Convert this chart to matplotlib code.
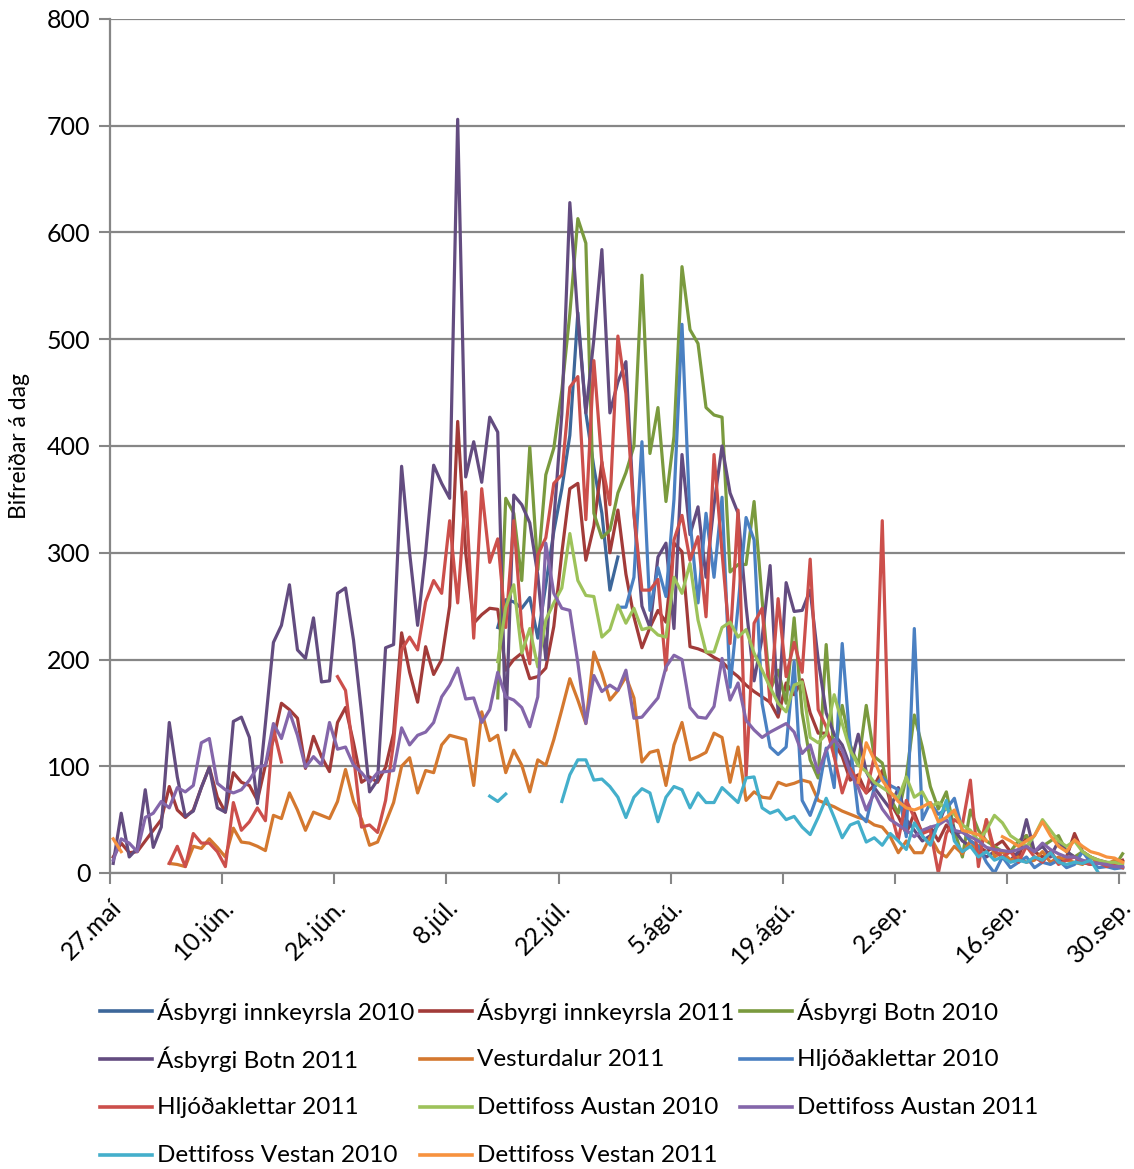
import matplotlib
matplotlib.use("Agg")
import matplotlib.pyplot as plt
from matplotlib.lines import Line2D
import numpy as np

nan = np.nan
N_DAYS = 127  # 27. maí .. 30. sep.

tick_days = [0, 14, 28, 42, 56, 70, 84, 98, 112, 126]
tick_labels = ['27.maí', '10.jún.', '24.jún.', '8.júl.', '22.júl.', '5.ágú.',
               '19.ágú.', '2.sep.', '16.sep.', '30.sep.']

# (start day, daily values)
asb_inn_2010 = (48, [230, 256, 254, 248, 258, 220, 270, 320, 360, 410, 525, 431, 380, 337, 265, 296])
asb_inn_2011 = (0, [15, 28, 19, 20, 30, 40, 50, 81, 59, 52,
                    59, 80, 99, 71, 57, 94, 85, 82, 68, 101,
                    125, 159, 153, 145, 98, 128, 109, 95, 141, 155,
                    122, 85, 90, 85, 99, 131, 225, 188, 160, 212,
                    186, 200, 250, 423, 300, 234, 242, 248, 247, 190,
                    200, 206, 182, 184, 192, 231, 300, 360, 365, 293,
                    325, 385, 300, 340, 280, 240, 211, 230, 246, 235,
                    309, 301, 212, 210, 207, 202, 198, 190, 184, 176,
                    170, 165, 160, 146, 178, 167, 181, 150, 131, 131,
                    122, 109, 87, 92, 75, 82, 96, 66, 53, 37,
                    56, 37, 43, 30, 45, 35, 40, 30, 25, 20,
                    25, 30, 20, 15, 35, 20, 15, 20, 10, 15,
                    37, 20, 15, 12, 10, 8, 12])
asb_botn_2010 = (48, [164, 351, 337, 274, 399, 284, 373, 398, 452, 524,
                      613, 590, 337, 314, 321, 356, 375, 400, 560, 393,
                      436, 348, 409, 568, 509, 496, 436, 429, 427, 282,
                      289, 289, 348, 256, 171, 190, 159, 239, 150, 106,
                      89, 214, 109, 157, 120, 101, 157, 109, 103, 70,
                      56, 90, 148, 118, 81, 60, 76, 40, 15, 59,
                      40, 30, 25, 20, 20, 30, 35, 20, 25, 30,
                      35, 20, 15, 20, 15, 10, 8, 6, 18])
asb_botn_2011 = (0, [9, 56, 15, 23, 78, 24, 43, 141, 90, 53,
                     58, 80, 99, 61, 57, 142, 146, 127, 65, 140,
                     216, 232, 270, 209, 201, 239, 179, 180, 262, 267,
                     218, 150, 76, 87, 211, 214, 381, 300, 232, 300,
                     382, 365, 351, 706, 371, 404, 366, 427, 413, 134,
                     354, 345, 328, 279, 200, 330, 430, 628, 520, 431,
                     500, 584, 431, 460, 479, 337, 250, 230, 296, 309,
                     229, 392, 317, 343, 277, 345, 400, 356, 337, 250,
                     180, 220, 288, 150, 272, 245, 246, 265, 200, 150,
                     130, 120, 100, 130, 95, 80, 70, 60, 80, 50,
                     40, 30, 35, 45, 65, 40, 30, 25, 20, 15,
                     20, 15, 12, 20, 50, 20, 25, 15, 30, 20,
                     15, 10, 8, 10, 8, 6, 5])
vesturdalur_2011 = (7, [9, 8, 6, 25, 23, 32, 24, 15, 42, 29,
                        28, 25, 21, 54, 51, 75, 59, 40, 57, 54,
                        51, 67, 97, 67, 50, 26, 29, 47, 66, 100,
                        108, 75, 96, 94, 120, 129, 127, 125, 82, 151,
                        124, 129, 94, 115, 101, 76, 106, 101, 125, 153,
                        182, 162, 140, 207, 187, 162, 171, 184, 164, 104,
                        113, 115, 82, 120, 141, 106, 109, 113, 131, 127,
                        85, 118, 68, 76, 71, 70, 85, 82, 84, 87,
                        85, 68, 65, 62, 58, 55, 52, 50, 45, 43,
                        34, 19, 30, 19, 19, 34, 20, 15, 25, 18,
                        30, 20, 50, 15, 20, 12, 15, 10, 12, 20,
                        10, 15, 12, 10, 8, 15, 10, 8, 12, 10])
hljod_2010 = (63, [249, 249, 277, 404, 246,
                   286, 259, 350, 514, 330, 253, 337, 277, 352, 174,
                   250, 333, 312, 159, 118, 111, 118, 198, 68, 54,
                   75, 117, 80, 215, 120, 56, 48, 80, 90, 82,
                   78, 34, 229, 50, 66, 55, 60, 70, 40, 30,
                   25, 10, 0, 15, 5, 10, 15, 5, 10, 8,
                   12, 5, 8, 20, 10, 5, 6, 4, 5])
hljod_2011 = (7, [9, 25, 6, 37, 28, 28, 20, 6, 66, 40,
                  48, 61, 49, 135, 104, nan, nan, nan, nan, nan,
                  nan, 184, 171, 110, 43, 45, 38, 68, 122, 209,
                  221, 209, 254, 274, 262, 330, 253, 357, 220, 360,
                  291, 313, 230, 330, 230, 196, 298, 314, 365, 373,
                  455, 465, 331, 480, 384, 345, 503, 449, 337, 265,
                  265, 275, 190, 312, 335, 293, 315, 240, 392, 300,
                  215, 340, 90, 234, 248, 159, 257, 184, 216, 188,
                  294, 153, 137, 109, 75, 98, 85, 75, 109, 330,
                  59, 31, 68, 52, 37, 40, 0, 37, 50, 45,
                  87, 6, 50, 21, 15, 20, 10, 25, 15, 10,
                  20, 8, 12, 15, 10, 8, 10, 6, 8, 5])
dett_aust_2010 = (48, [198, 249, 270, 206, 229, 193, 237, 253, 267, 318,
                       274, 260, 259, 221, 228, 251, 234, 248, 228, 230,
                       223, 221, 277, 262, 290, 237, 207, 207, 230, 235,
                       221, 228, 206, 190, 174, 159, 151, 176, 179, 127,
                       122, 130, 167, 140, 115, 101, 95, 85, 80, 75,
                       70, 90, 71, 76, 62, 66, 60, 55, 45, 40,
                       30, 40, 54, 47, 35, 30, 25, 35, 50, 40,
                       30, 25, 30, 20, 15, 12, 10, 10, 8])
dett_aust_2011 = (0, [12, 32, 28, 20, 52, 56, 67, 61, 80, 76,
                      82, 122, 126, 84, 78, 75, 78, 87, 99, 101,
                      140, 126, 151, 129, 99, 109, 101, 141, 116, 118,
                      101, 94, 85, 94, 95, 96, 136, 120, 129, 132,
                      141, 165, 176, 192, 163, 164, 141, 153, 188, 165,
                      162, 155, 137, 165, 309, 262, 248, 246, 197, 140,
                      185, 170, 176, 171, 190, 145, 146, 155, 164, 193,
                      204, 200, 155, 146, 145, 156, 201, 162, 178, 143,
                      134, 127, 132, 136, 140, 132, 112, 120, 94, 115,
                      125, 115, 94, 80, 59, 75, 60, 50, 45, 40,
                      34, 40, 43, 45, 50, 40, 38, 34, 30, 24,
                      22, 21, 20, 22, 25, 20, 28, 22, 18, 15,
                      15, 12, 10, 9, 8, 6, 6])
dett_vest_2010 = (47, [72, 67, 74, nan, nan, nan, nan, nan, nan,
                       67, 92, 106, 106, 87, 88, 81, 71, 52, 71,
                       79, 75, 48, 71, 81, 78, 61, 75, 66, 66,
                       80, 73, 66, 89, 90, 61, 56, 59, 50, 53,
                       43, 36, 52, 70, 52, 33, 45, 48, 29, 33,
                       26, 37, 30, 22, 47, 35, 26, 47, 68, 30,
                       20, 25, 15, 20, 12, 15, 10, 12, 10, 15,
                       12, 19, 10, 8, 10, 9, 12, 0])
dett_vest_2011 = (0, [32, 20] + [nan] * 91 +
                  [85, 122, 106, 87, 76, 67, 61, 59, 62, 66,
                   48, 52, 59, 40, 38, 36, 30, nan, 34, 30,
                   25, 30, 35, 48, 35, 25, 20, 31, 25, 20,
                   18, 15, 14, 10])

series = [
    ('Ásbyrgi innkeyrsla 2010', asb_inn_2010, '#3D679A'),
    ('Ásbyrgi innkeyrsla 2011', asb_inn_2011, '#A23B39'),
    ('Ásbyrgi Botn 2010', asb_botn_2010, '#7A9A3E'),
    ('Ásbyrgi Botn 2011', asb_botn_2011, '#634C80'),
    ('Vesturdalur 2011', vesturdalur_2011, '#D4782F'),
    ('Hljóðaklettar 2010', hljod_2010, '#4A80C2'),
    ('Hljóðaklettar 2011', hljod_2011, '#CC4F4B'),
    ('Dettifoss Austan 2010', dett_aust_2010, '#9DC25A'),
    ('Dettifoss Austan 2011', dett_aust_2011, '#8466AA'),
    ('Dettifoss Vestan 2010', dett_vest_2010, '#44AFCB'),
    ('Dettifoss Vestan 2011', dett_vest_2011, '#F7923F'),
]

plt.rcParams['font.family'] = ['Lato', 'DejaVu Sans']

W, H = 1134, 1169
fig = plt.figure(figsize=(W / 100, H / 100), dpi=100)
ax = fig.add_axes([110 / W, 1 - 873 / H, 1015 / W, 854 / H])

for name, (start, vals), color in series:
    y = np.full(N_DAYS, nan)
    y[start:start + len(vals)] = vals
    x = np.arange(N_DAYS) + 0.4
    ax.plot(x, y, color=color, lw=2.3, solid_joinstyle='round')

ax.set_xlim(0, 126.7)
ax.set_ylim(0, 800)
ax.set_yticks(range(0, 801, 100))
ax.set_xticks(tick_days)
ax.set_xticklabels(tick_labels, rotation=45, ha='right', rotation_mode='anchor')
ax.tick_params(axis='both', labelsize=18, color='#868686', length=8, width=1.5)
ax.tick_params(axis='x', pad=8)
ax.tick_params(axis='y', pad=6)
ax.grid(axis='y', color='#868686', lw=1.6)
ax.set_axisbelow(True)
for side in ['top', 'right']:
    ax.spines[side].set_visible(False)
for side in ['left', 'bottom']:
    ax.spines[side].set_color('#868686')
    ax.spines[side].set_linewidth(1.6)
ax.set_ylabel('Bifreiðar á dag', fontsize=16.5, labelpad=12)

# legend laid out row by row, like the original
col_x = [100, 420, 740]
row_y = [1011, 1059, 1107, 1155]
for i, (name, _, color) in enumerate(series):
    r, c = divmod(i, 3)
    x0 = col_x[c]
    y0 = 1 - row_y[r] / H
    fig.add_artist(Line2D([x0 / W, (x0 + 52) / W], [y0, y0], color=color, lw=2.6,
                          transform=fig.transFigure))
    fig.text((x0 + 57) / W, y0, name, fontsize=17.5, va='center', ha='left')

fig.savefig('out.png', dpi=100)
